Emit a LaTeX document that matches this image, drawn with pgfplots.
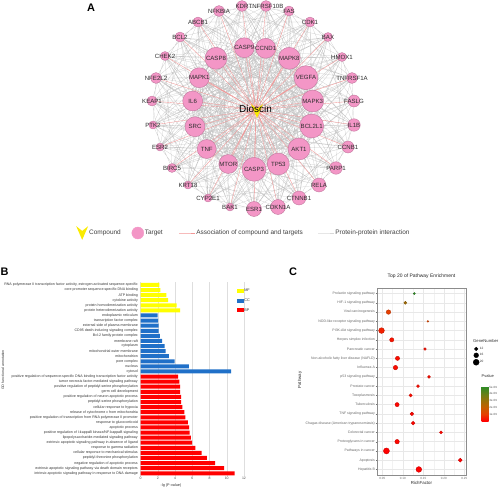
\documentclass[border=0pt]{standalone}
\usepackage{fontspec}
\setmainfont{Liberation Sans}
\usepackage{pgfplots}
\usepackage{pgfplotstable}
\pgfplotsset{compat=1.18}

\definecolor{nodepink}{RGB}{243,150,198}
\definecolor{cyellow}{RGB}{250,235,0}
\definecolor{redge}{RGB}{242,150,150}
\definecolor{pedge}{RGB}{200,200,200}
\definecolor{labc}{RGB}{45,45,45}
\definecolor{byellow}{RGB}{255,255,0}
\definecolor{bblue}{RGB}{32,112,200}
\definecolor{bred}{RGB}{255,0,0}

\newcommand{\fs}[1]{\fontsize{#1}{#1}\selectfont}

\pgfdeclareplotmark{vee}{%
  \pgfpathmoveto{\pgfqpoint{-\pgfplotmarksize}{1.15\pgfplotmarksize}}%
  \pgfpathlineto{\pgfqpoint{0pt}{-1.15\pgfplotmarksize}}%
  \pgfpathlineto{\pgfqpoint{\pgfplotmarksize}{1.15\pgfplotmarksize}}%
  \pgfpathlineto{\pgfqpoint{0pt}{0.35\pgfplotmarksize}}%
  \pgfpathclose
  \pgfusepathqfill
}

\pgfplotstableread{
x y r lab
244.3 47.7 10 CASP9
265.7 48.3 10 CCND1
289.3 58.3 11 MAPK8
306 77.7 12 VEGFA
312.7 101 11 MAPK3
311.7 126 12 BCL2L1
299 149 11 AKT1
278.3 164 11 TP53
254 169.3 12 CASP3
228.3 164 9.5 MTOR
206.7 149 9.5 TNF
195 126.7 10 SRC
192.7 101 10 IL6
199.3 77.7 10 MAPK1
216 58.3 11 CASP8
242 6 5.5 KDR
266 6 5.5 TNFRSF10B
289 11 5 FAS
310 22 5 CDK1
328 37 4.5 BAX
342 57 4.5 HMOX1
352 78 5.5 TNFRSF1A
354 101 6 FASLG
354 125 6.3 IL1B
348 147 6 CCNB1
336 168 6.3 PARP1
319 185 7 RELA
299 198 7 CTNNB1
278 207 7.5 CDKN1A
254 209 7.5 ESR1
230 207 4 BAK1
208 198 4 CYP2E1
188 185 4 KRT18
172 168 4.5 BIRC5
160 147 4 ESR2
153 125 4 PTK2
152 101 5 KEAP1
156 78 5.5 NFE2L2
165 56 4.5 CHEK2
180 37 5 BCL2
198 22 5 ABCB1
219 11 5.5 NFKBIA
}\nodetab

\foreach \i in {0,...,41}{%
  \pgfplotstablegetelem{\i}{x}\of\nodetab
  \expandafter\xdef\csname nx\i\endcsname{\pgfplotsretval}%
  \pgfplotstablegetelem{\i}{y}\of\nodetab
  \expandafter\xdef\csname ny\i\endcsname{\pgfplotsretval}%
}
\newcommand{\nodept}[1]{(\csname nx#1\endcsname,\csname ny#1\endcsname)}
\gdef\ppiedges{}
\foreach \i in {0,...,13}{%
  \pgfmathtruncatemacro\ia{\i+1}%
  \foreach \j in {\ia,...,14}{%
    \xdef\ppiedges{\ppiedges \nodept{\i} \nodept{\j} (nan,nan) }%
  }%
}
\foreach \i in {15,...,41}{%
  \foreach \j in {0,...,14}{%
    \pgfmathtruncatemacro\m{mod(\i+\j,3)}%
    \ifnum\m>0 \xdef\ppiedges{\ppiedges \nodept{\i} \nodept{\j} (nan,nan) }\fi
  }%
}
\foreach \i in {15,...,41}{%
  \foreach \k in {2,5,11}{%
    \pgfmathtruncatemacro\j{15+mod(\i-15+\k,27)}%
    \xdef\ppiedges{\ppiedges \nodept{\i} \nodept{\j} (nan,nan) }%
  }%
}
\gdef\redges{}
\foreach \i in {0,...,41}{%
  \xdef\redges{\redges (256,110) \nodept{\i} (nan,nan) }%
}

\begin{document}
\begin{tikzpicture}
\useasboundingbox (0bp,0bp) rectangle (500bp,487bp);

% ---------------- Panel A ----------------
\begin{axis}[at={(250bp,243.5bp)}, anchor=center, scale only axis,
  width=500bp, height=487bp, xmin=0, xmax=500, ymin=0, ymax=487,
  y dir=reverse, hide axis, clip=false,
  colormap={pinkmap}{rgb255=(243,150,198) rgb255=(243,150,198)},
  legend columns=4, legend cell align=left,
  legend image code/.code={\draw[mark repeat=2,mark phase=2,#1] plot coordinates {(0bp,0bp) (8bp,0bp) (16bp,0bp)};},
  legend style={at={(axis cs:76,233)}, anchor=west, draw=none, fill=none,
    inner sep=0pt, font=\fs{6.5}, text=black!75, nodes={inner sep=1bp},
    /tikz/column 2/.style={column sep=10bp},
    /tikz/column 4/.style={column sep=15bp},
    /tikz/column 6/.style={column sep=14bp}},
]
\edef\tmp{\noexpand\addplot[pedge, line width=0.2bp, unbounded coords=jump, forget plot] coordinates {\ppiedges};}\tmp
\edef\tmp{\noexpand\addplot[redge, line width=0.35bp, unbounded coords=jump, forget plot] coordinates {\redges};}\tmp
\addplot[scatter, only marks, mark=*, forget plot,
  point meta=\thisrow{r},
  visualization depends on={\thisrow{r}\as\rr},
  scatter/@pre marker code/.append style={/tikz/mark size=\rr},
] table {\nodetab};
\addplot[only marks, mark=none, forget plot,
  point meta=explicit symbolic,
  nodes near coords,
  every node near coord/.style={anchor=center, inner sep=0pt, font=\fs{6.1}, text=labc},
] table[meta=lab] {\nodetab};
\addplot[only marks, mark=vee, mark size=6, color=cyellow, forget plot,
  nodes near coords={Dioscin},
  every node near coord/.style={anchor=center, inner sep=0pt, font=\fs{10}, text=black, xshift=-1.5bp, yshift=2.5bp}]
  coordinates {(257,111)};
\addlegendimage{only marks, mark=vee, mark size=6, color=cyellow}
\addlegendentry{Compound}
\addlegendimage{only marks, mark=*, mark size=6, color=nodepink}
\addlegendentry{Target}
\addlegendimage{redge, line width=0.6bp}
\addlegendentry{Association of compound and targets}
\addlegendimage{pedge!70, line width=0.4bp}
\addlegendentry{Protein-protein interaction}
\end{axis}

% ---------------- Panel B ----------------
\begin{axis}[at={(140.5bp,11.2bp)}, anchor=south west, scale only axis,
  width=103.5bp, height=193.4bp,
  xbar, bar width=4bp,
  xmin=0, xmax=12, ymin=-0.5, ymax=37.5,
  xtick={0,2,4,6,8,10,12}, ytick={0,...,37},
  yticklabels={
    intrinsic apoptotic signaling pathway in response to DNA damage,
    extrinsic apoptotic signaling pathway via death domain receptors,
    negative regulation of apoptotic process,
    peptidyl-threonine phosphorylation,
    cellular response to mechanical stimulus,
    response to gamma radiation,
    extrinsic apoptotic signaling pathway in absence of ligand,
    lipopolysaccharide-mediated signaling pathway,
    positive regulation of I-kappaB kinase/NF-kappaB signaling,
    apoptotic process,
    response to glucocorticoid,
    positive regulation of transcription from RNA polymerase II promoter,
    release of cytochrome c from mitochondria,
    cellular response to hypoxia,
    peptidyl-serine phosphorylation,
    positive regulation of neuron apoptotic process,
    germ cell development,
    positive regulation of peptidyl-serine phosphorylation,
    tumor necrosis factor-mediated signaling pathway,
    positive regulation of sequence-specific DNA binding transcription factor activity,
    cytosol, nucleus, pore complex, mitochondrion, mitochondrial outer membrane,
    cytoplasm, membrane raft, Bcl-2 family protein complex,
    CD95 death-inducing signaling complex, external side of plasma membrane,
    transcription factor complex, endoplasmic reticulum,
    protein heterodimerization activity, protein homodimerization activity,
    cytokine activity, ATP binding, core promoter sequence-specific DNA binding,
    {RNA polymerase II transcription factor activity, estrogen-activated sequence-specific}},
  xmajorgrids, major grid style={draw=black!13, line width=0.3bp},
  axis line style={draw=none}, major tick length=0pt,
  xticklabel style={font=\fs{3.5}, text=black!70, inner sep=0pt, yshift=-1.5bp},
  yticklabel style={font=\fs{3.6}, text=black!80, inner sep=0pt, xshift=-2.5bp},
  xlabel={-lg (P-value)},
  xlabel style={font=\fs{3.8}, text=black!80, at={(axis description cs:0.295,0)}, anchor=center, yshift=-9.5bp},
  ylabel={GO functional annotation},
  ylabel style={font=\fs{3.6}, text=black!80, at={(axis description cs:-1.33,0.547)}, anchor=center},
  legend style={at={(axis description cs:0.9325,0.968)}, anchor=north west, draw=none, fill=none,
    inner sep=0pt, font=\fs{3.8}, text=black!80, row sep=4.2bp, nodes={inner sep=0.6bp}},
  legend image code/.code={\fill[#1] (0bp,-2bp) rectangle (6.5bp,2bp);},
  legend cell align=left,
  /pgf/number format/assume math mode=true,
]
\addplot[fill=byellow, draw=none, bar shift=0pt] coordinates {
  (2.2,37) (2.3,36) (3.0,35) (3.2,34) (4.2,33) (4.6,32)};
\addlegendentry{MF}
\addplot[fill=bblue, draw=none, bar shift=0pt] coordinates {
  (2.0,31) (2.05,30) (2.1,29) (2.1,28) (2.25,27) (2.5,26) (2.8,25) (2.9,24)
  (3.3,23) (3.95,22) (5.6,21) (10.5,20)};
\addlegendentry{CC}
\addplot[fill=bred, draw=none, bar shift=0pt] coordinates {
  (4.35,19) (4.5,18) (4.6,17) (4.6,16) (4.7,15) (4.7,14) (4.85,13) (5.1,12)
  (5.2,11) (5.5,10) (5.65,9) (5.7,8) (5.85,7) (6.0,6) (6.35,5) (7.1,4)
  (7.7,3) (8.65,2) (9.7,1) (10.9,0)};
\addlegendentry{BP}
\end{axis}

% ---------------- Panel C ----------------
\begin{axis}[at={(377bp,12bp)}, anchor=south west, scale only axis,
  width=89bp, height=187bp,
  xmin=0.037, xmax=0.254, ymin=-0.6, ymax=19.6,
  xtick={0.05,0.1,0.15,0.2,0.25}, xticklabels={0.05,0.10,0.15,0.20,0.25},
  minor xtick={0.075,0.125,0.175,0.225},
  ytick={0,...,19},
  yticklabels={Hepatitis B, Apoptosis, Pathways in cancer, Proteoglycans in cancer,
    Colorectal cancer, Chagas disease (American trypanosomiasis), TNF signaling pathway,
    Tuberculosis, Toxoplasmosis, Prostate cancer, p53 signaling pathway, Influenza A,
    Non-alcoholic fatty liver disease (NAFLD), Pancreatic cancer, Herpes simplex infection,
    PI3K-Akt signaling pathway, NOD-like receptor signaling pathway, Viral carcinogenesis,
    HIF-1 signaling pathway, Prolactin signaling pathway},
  grid=both, major grid style={draw=black!9, line width=0.35bp},
  minor grid style={draw=black!5, line width=0.2bp},
  axis line style={draw=black!45, line width=0.4bp},
  tick style={draw=black!55, line width=0.3bp}, tick align=outside,
  major tick length=1.3bp, minor tick length=0pt, tick pos=left,
  xticklabel style={font=\fs{3}, text=black!60, inner sep=0.6bp},
  yticklabel style={font=\fs{3.5}, text=black!60, inner sep=0.6bp},
  title={Top 20 of Pathway Enrichment},
  title style={font=\fs{5}, text=black!85, at={(0.5,1)}, anchor=south, inner sep=0pt, yshift=3.5bp},
  xlabel=RichFactor,
  xlabel style={font=\fs{4.4}, text=black!85, at={(axis description cs:0.5,0)}, anchor=center, yshift=-7.7bp},
  ylabel=Pathway,
  ylabel style={font=\fs{4.4}, text=black!85, at={(axis description cs:-0.865,0.508)}, anchor=center},
  colormap={pv}{rgb255=(255,0,0) rgb255=(230,65,0) rgb255=(195,95,0) rgb255=(150,115,10) rgb255=(95,130,25) rgb255=(40,140,40)},
  point meta min=0, point meta max=5.15e-9,
  colorbar,
  colorbar style={at={(parent axis.north east)}, anchor=north west, xshift=7bp, yshift=-98bp,
    scale only axis, width=7bp, height=35bp, grid=none, scaled y ticks=false,
    ytick={1e-9,2e-9,3e-9,4e-9,5e-9}, yticklabels={1e-09,2e-09,3e-09,4e-09,5e-09},
    yticklabel style={font=\fs{3}, text=black!65, inner sep=0.6bp},
    major tick length=0pt, axis line style={draw=none},
    title=Pvalue, title style={font=\fs{4}, text=black!85, at={(0,1)}, anchor=south west, inner sep=0pt, yshift=2bp}},
  legend style={at={(axis description cs:1,1)}, anchor=north west, xshift=7bp, yshift=-51bp,
    draw=none, fill=none, inner sep=0pt, font=\fs{3.2}, text=black!80, row sep=1.5bp,
    nodes={inner sep=0.6bp}},
  legend image code/.code={\draw[#1] plot coordinates {(3bp,0bp)};},
  legend cell align=left,
  /pgf/number format/assume math mode=true,
]
\addplot[scatter, only marks, mark=*, forget plot,
  point meta=\thisrow{p},
  visualization depends on={0.15*\thisrow{n}\as\rr},
  scatter/@pre marker code/.append style={/tikz/mark size=\rr}] table {
x y n p
0.139 0 19 1e-12
0.240 1 13 1e-11
0.060 2 20 1e-14
0.086 3 15 1e-10
0.193 4 10 1e-10
0.125 5 12 1e-10
0.122 6 12 1e-10
0.086 7 14 1e-10
0.119 8 11 2e-10
0.137 9 10 2e-10
0.164 10 10 2e-10
0.082 11 15 2e-10
0.087 12 14 2e-10
0.154 13 9 2e-10
0.073 14 14 3e-10
0.048 15 19 5e-10
0.161 16 6 1.2e-9
0.065 17 15 1e-9
0.106 18 10 2.8e-9
0.128 19 7 5e-9
};
\addlegendimage{empty legend}
\addlegendentry{\fs{4.2}\hspace*{-6.6bp}GeneNumber}
\addlegendimage{only marks, mark=*, black, mark size=1.8}
\addlegendentry{12}
\addlegendimage{only marks, mark=*, black, mark size=2.4}
\addlegendentry{16}
\addlegendimage{only marks, mark=*, black, mark size=3.0}
\addlegendentry{20}
\end{axis}

\node[font=\fs{11}\bfseries, inner sep=0pt] at (91bp,479.5bp) {A};
\node[font=\fs{11}\bfseries, inner sep=0pt] at (4.5bp,215bp) {B};
\node[font=\fs{11}\bfseries, inner sep=0pt] at (293bp,215bp) {C};
\end{tikzpicture}
\end{document}
